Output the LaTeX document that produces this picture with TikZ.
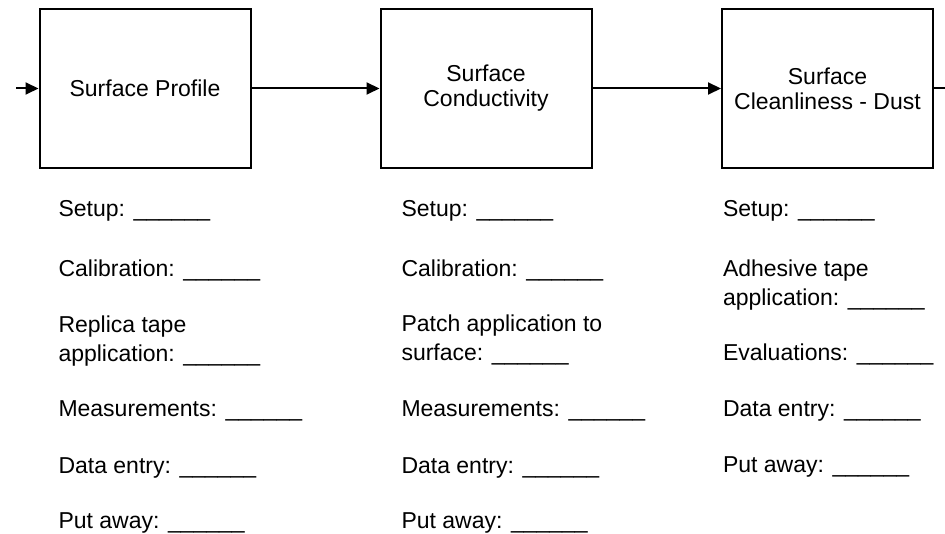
\documentclass[tikz,border=0pt]{standalone}
\usepackage{fontspec}
\setmainfont{Liberation Sans}
\usetikzlibrary{arrows.meta}
\newcommand{\answerline}{\_\_\_\_\_\_}

\begin{document}
\begin{tikzpicture}[x=1pt, y=-1pt, line width=2pt,
        stage/.style={rectangle, draw, minimum width=211pt, minimum height=159pt, inner sep=0pt, align=center, font=\fontsize{23}{25}\selectfont},
        item/.style={anchor=base west, inner sep=0pt, align=left, font=\fontsize{23}{29}\selectfont},
        flow/.style={-{Triangle[length=13pt, width=12pt]}}]
            \useasboundingbox (0,0) rectangle (945,534);

            % stages
            \node[stage] (profile) at (145,88.5) {Surface Profile};
            \node[stage] (conduct) at (486,88.5) {Surface\\Conductivity};
            \node[stage] (dust) at (827.5,88.5) {Surface\\Cleanliness - Dust};
            \coordinate (in) at (16,88.5);
            \coordinate (out) at (945,88.5);

            \draw (in) edge[flow] (profile);
            \draw (profile) edge[flow] (conduct);
            \draw (conduct) edge[flow] (dust);
            \draw (dust) edge (out);

            % surface profile steps
            \node[item] (setupA) at (57.5,217) {Setup: \answerline};
            \node[item] (calibA) at (57.5,277) {Calibration: \answerline};
            \node[item] (tapeA) at (57.5,362) {Replica tape\\application: \answerline};
            \node[item] (measA) at (57.5,417) {Measurements: \answerline};
            \node[item] (dataA) at (57.5,473) {Data entry: \answerline};
            \node[item] (awayA) at (57.5,528) {Put away: \answerline};

            % surface conductivity steps
            \node[item] (setupB) at (400.5,217) {Setup: \answerline};
            \node[item] (calibB) at (400.5,277) {Calibration: \answerline};
            \node[item] (patchB) at (400.5,361) {Patch application to\\surface: \answerline};
            \node[item] (measB) at (400.5,417) {Measurements: \answerline};
            \node[item] (dataB) at (400.5,473) {Data entry: \answerline};
            \node[item] (awayB) at (400.5,528) {Put away: \answerline};

            % surface cleanliness steps
            \node[item] (setupC) at (722,217) {Setup: \answerline};
            \node[item] (tapeC) at (722,306) {Adhesive tape\\application: \answerline};
            \node[item] (evalC) at (722,361) {Evaluations: \answerline};
            \node[item] (dataC) at (722,417) {Data entry: \answerline};
            \node[item] (awayC) at (722,472) {Put away: \answerline};
        \end{tikzpicture}
\end{document}
